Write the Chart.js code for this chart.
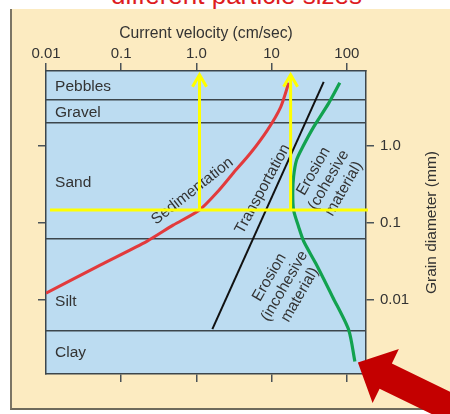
<!DOCTYPE html>
<html>
<head>
<meta charset="utf-8">
<title>Current velocity vs grain diameter</title>
<script src="https://cdn.jsdelivr.net/npm/chart.js@4.4.1/dist/chart.umd.min.js"></script>
<style>
  html, body { margin: 0; padding: 0; background: #fff; }
  #page { position: relative; width: 450px; height: 414px; overflow: hidden; }
  #heading {
    position: absolute; left: 0; top: -18px; width: 473px;
    text-align: center; white-space: nowrap;
    font: 26px/26px 'Liberation Sans', Arial, sans-serif; color: #dd1c1f;
  }
  #frame {
    position: absolute; left: 10px; top: 9px; width: 440px; height: 399px;
    background: #fcebc1;
    border-left: 2px solid #7b7565; border-bottom: 2px solid #6e6a5c;
  }
  #hjulstrom { position: absolute; left: 0; top: 0; }
</style>
</head>
<body>
<div id="page">
  <div id="heading">different particle sizes</div>
  <div id="frame"></div>
  <canvas id="hjulstrom" width="450" height="414"></canvas>
</div>
<script>
// axes
const velocityTicks = [0.01, 0.1, 1, 10, 100];
const velocityLabels = ['0.01', '0.1', '1.0', '10', '100'];
const diameterTicks = [0.01, 0.1, 1];
const diameterLabels = ['0.01', '0.1', '1.0'];

// grain size classes (mm)
const classNames = ['Pebbles', 'Gravel', 'Sand', 'Silt', 'Clay'];
const classBounds = [4, 2, 0.0625, 0.004];
const classLabelDiam = [5.8, 2.68, 0.33, 0.0094, 0.0021];
const classLabelVel = 0.0132;

// curves: velocity (cm/s) and grain diameter (mm)
const sedVel = [0.01, 0.0525, 0.222, 0.49, 1.1, 1.9, 3.1, 5.25, 8.8, 13.2, 16.9];
const sedDiam = [0.0123, 0.0285, 0.0584, 0.094, 0.148, 0.253, 0.446, 0.81, 1.61, 3.2, 6.6];

const transVel = [1.63, 49.3];
const transDiam = [0.0042, 6.8];

const eroVel = [80.7, 57.5, 36.3, 25.9, 21.5, 19.6, 19.1, 19.6, 22.9, 26.7, 38.6, 65, 106, 128];
const eroDiam = [6.6, 3.6, 1.77, 0.97, 0.66, 0.40, 0.245, 0.148, 0.089, 0.058, 0.030, 0.0109, 0.0041, 0.0016];

// yellow guide lines
const guideDiam = 0.148;
const guideH = [0.0113, 191];
const guideV = [1.1, 17.9];
const guideTop = 8.4;

// labels along the curves
const noteLines = [['Sedimentation'], ['Transportation'], ['Erosion', '(cohesive', 'material)'], ['Erosion', '(incohesive', 'material)']];
const noteVel = [0.885, 7.6, 57.5, 14.9];
const noteDiam = [0.26, 0.277, 0.362, 0.0152];
const noteAngle = [-38, -61.5, -60, -60];

const FONT = "'Liberation Sans', Arial, sans-serif";
const TEXT = '#333';

const pts = (xs, ys) => xs.map((v, i) => ({ x: v, y: ys[i] }));

const plotBg = {
  id: 'plotBg',
  beforeDraw(chart) {
    const { ctx, chartArea: a } = chart;
    ctx.save();
    ctx.fillStyle = '#bcdcf1';
    ctx.fillRect(a.left, a.top, a.right - a.left, a.bottom - a.top);
    ctx.restore();
  }
};

const textLabels = {
  id: 'textLabels',
  beforeDatasetsDraw(chart) {
    const { ctx, scales: { x, y } } = chart;
    ctx.save();
    ctx.fillStyle = TEXT;
    ctx.font = '15.5px ' + FONT;
    ctx.textBaseline = 'middle';
    ctx.textAlign = 'left';
    classNames.forEach((name, i) => {
      ctx.fillText(name, x.getPixelForValue(classLabelVel), y.getPixelForValue(classLabelDiam[i]));
    });
    ctx.textAlign = 'center';
    noteLines.forEach((lines, i) => {
      ctx.save();
      ctx.translate(x.getPixelForValue(noteVel[i]), y.getPixelForValue(noteDiam[i]));
      ctx.rotate(noteAngle[i] * Math.PI / 180);
      lines.forEach((t, k) => ctx.fillText(t, 0, (k - (lines.length - 1) / 2) * 17.5));
      ctx.restore();
    });
    ctx.restore();
  }
};

const arrows = {
  id: 'arrows',
  afterDatasetsDraw(chart) {
    const { ctx } = chart;
    ctx.save();
    // chevrons on the yellow verticals
    ctx.strokeStyle = '#ffff00';
    ctx.lineWidth = 3;
    ctx.lineJoin = 'miter';
    [1, 2].forEach(di => {
      const pt = chart.getDatasetMeta(di).data[1];
      ctx.beginPath();
      ctx.moveTo(pt.x - 7, pt.y + 12);
      ctx.lineTo(pt.x, pt.y);
      ctx.lineTo(pt.x + 7, pt.y + 12);
      ctx.stroke();
    });
    ctx.restore();
  },
  afterDraw(chart) {
    // big red pointer at the end of the erosion curve
    const { ctx } = chart;
    const ero = chart.getDatasetMeta(5).data;
    const end = ero[ero.length - 1];
    const tipX = end.x + 3, tipY = end.y + 1;
    const a = 26 * Math.PI / 180;
    const ux = Math.cos(a), uy = Math.sin(a);
    const nx = -uy, ny = ux;
    const head = 31, half = 30, shaft = 14, len = 200;
    ctx.save();
    ctx.fillStyle = '#c40000';
    ctx.beginPath();
    ctx.moveTo(tipX, tipY);
    ctx.lineTo(tipX + ux * head + nx * half, tipY + uy * head + ny * half);
    ctx.lineTo(tipX + ux * head + nx * shaft, tipY + uy * head + ny * shaft);
    ctx.lineTo(tipX + ux * len + nx * shaft, tipY + uy * len + ny * shaft);
    ctx.lineTo(tipX + ux * len - nx * shaft, tipY + uy * len - ny * shaft);
    ctx.lineTo(tipX + ux * head - nx * shaft, tipY + uy * head - ny * shaft);
    ctx.lineTo(tipX + ux * head - nx * half, tipY + uy * head - ny * half);
    ctx.closePath();
    ctx.fill();

    // right axis title, reading bottom to top
    const ys = chart.scales.y;
    ctx.fillStyle = TEXT;
    ctx.font = '15.5px ' + FONT;
    ctx.textAlign = 'center';
    ctx.textBaseline = 'middle';
    ctx.translate(ys.right - 18, (ys.top + ys.bottom) / 2);
    ctx.rotate(-Math.PI / 2);
    ctx.fillText('Grain diameter (mm)', 0, 0);
    ctx.restore();
  }
};

const tickFont = { family: FONT, size: 15 };
const edgeGrid = { drawOnChartArea: false, tickLength: 8, color: '#4a5358', lineWidth: 1.5 };
const edgeBorder = { color: '#3c464c', width: 1.5 };

const ctx = document.getElementById('hjulstrom').getContext('2d');

const hjulstromChart = new Chart(ctx, {
  type: 'scatter',
  data: {
    datasets: [
      { data: pts(guideH, [guideDiam, guideDiam]), borderColor: '#ffff00', borderWidth: 3, clip: false },
      { data: pts([guideV[0], guideV[0]], [guideDiam, guideTop]), borderColor: '#ffff00', borderWidth: 3 },
      { data: pts([guideV[1], guideV[1]], [guideDiam, guideTop]), borderColor: '#ffff00', borderWidth: 3 },
      { data: pts(sedVel, sedDiam), borderColor: '#e23a3c', borderWidth: 3, tension: 0.25 },
      { data: pts(transVel, transDiam), borderColor: '#111111', borderWidth: 2 },
      { data: pts(eroVel, eroDiam), borderColor: '#12a24f', borderWidth: 3.2, tension: 0.25 }
    ].map(d => Object.assign({ showLine: true, pointRadius: 0, pointHoverRadius: 0, fill: false }, d))
  },
  options: {
    responsive: false,
    animation: false,
    events: [],
    layout: { padding: 0 },
    plugins: { legend: { display: false }, tooltip: { enabled: false } },
    scales: {
      x: {
        type: 'logarithmic', position: 'top', min: 0.01, max: 180,
        afterBuildTicks: s => { s.ticks = velocityTicks.map(v => ({ value: v })); },
        ticks: { callback: (v, i) => velocityLabels[i], color: TEXT, font: tickFont, padding: 0, maxRotation: 0, autoSkip: false },
        grid: edgeGrid,
        border: edgeBorder,
        title: { display: true, text: 'Current velocity (cm/sec)', color: TEXT, font: { family: FONT, size: 15.7 }, padding: { top: 24, bottom: 0 } },
        afterFit: s => { s.height = 71; }
      },
      x2: {
        type: 'logarithmic', position: 'bottom', min: 0.01, max: 180,
        afterBuildTicks: s => { s.ticks = velocityTicks.slice(1).map(v => ({ value: v })); },
        ticks: { display: false },
        grid: edgeGrid,
        border: edgeBorder,
        afterFit: s => { s.height = 40; }
      },
      y: {
        type: 'logarithmic', position: 'right', min: 0.0011, max: 9.4,
        afterBuildTicks: s => { s.ticks = diameterTicks.map(v => ({ value: v })); },
        ticks: { callback: (v, i) => diameterLabels[i], color: TEXT, font: tickFont, padding: 6, autoSkip: false },
        grid: edgeGrid,
        border: edgeBorder,
        afterFit: s => { s.width = 84; }
      },
      y2: {
        type: 'logarithmic', position: 'left', min: 0.0011, max: 9.4,
        afterBuildTicks: s => { s.ticks = diameterTicks.map(v => ({ value: v })); },
        ticks: { display: false },
        grid: edgeGrid,
        border: edgeBorder,
        afterFit: s => { s.width = 46; }
      },
      yClass: {
        type: 'logarithmic', position: 'left', min: 0.0011, max: 9.4,
        afterBuildTicks: s => { s.ticks = classBounds.map(v => ({ value: v })); },
        ticks: { display: false },
        grid: { drawOnChartArea: true, drawTicks: false, color: '#3c464c', lineWidth: 1.5 },
        border: { display: false },
        afterFit: s => { s.width = 0; }
      }
    }
  },
  plugins: [plotBg, textLabels, arrows]
});
</script>
</body>
</html>
